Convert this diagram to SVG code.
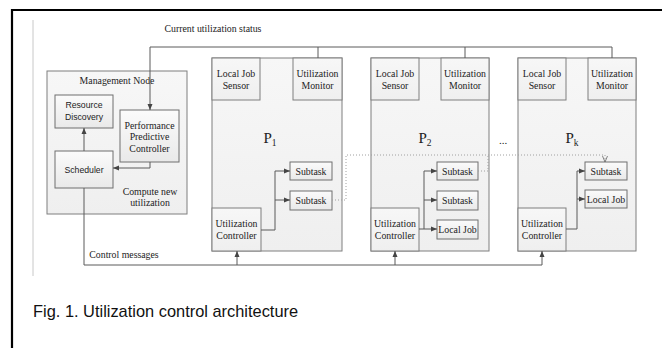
<svg xmlns="http://www.w3.org/2000/svg" width="662" height="348" viewBox="0 0 662 348">
<style>
.serif{font-family:"Liberation Serif","Times New Roman",serif;fill:#222;font-size:9.8px;text-anchor:middle}
.sans{font-family:"Liberation Sans",Arial,sans-serif;fill:#222;font-size:8.7px;text-anchor:middle}
.big{font-family:"Liberation Serif","Times New Roman",serif;fill:#222;font-size:15px;text-anchor:middle}
.box{fill:url(#g1);stroke:#7f7f7f;stroke-width:1}
.inner{fill:url(#g2);stroke:#6f6f6f;stroke-width:1}
.ln{fill:none;stroke:#5a5a5a;stroke-width:1}
.dot{fill:none;stroke:#a0a0a0;stroke-width:1;stroke-dasharray:1 2}
</style>
<defs>
<linearGradient id="g1" x1="0" y1="0" x2="0" y2="1"><stop offset="0" stop-color="#f7f7f7"/><stop offset="1" stop-color="#efefef"/></linearGradient>
<linearGradient id="g2" x1="0" y1="0" x2="0" y2="1"><stop offset="0" stop-color="#fbfbfb"/><stop offset="1" stop-color="#e9e9e9"/></linearGradient>
<marker id="ar" viewBox="0 0 6 6" refX="6" refY="3" markerWidth="6" markerHeight="6" orient="auto" markerUnits="userSpaceOnUse"><path d="M0,0.5 L6,3 L0,5.5 z" fill="#444"/></marker>
<marker id="ay" viewBox="0 0 6 6" refX="6" refY="3" markerWidth="6" markerHeight="6" orient="auto" markerUnits="userSpaceOnUse"><path d="M0,0.5 L6,3 L0,5.5" fill="none" stroke="#666" stroke-width="0.8"/></marker>
</defs>
<rect width="662" height="348" fill="#fff"/>
<path d="M12,349 L12,10 L663,10" fill="none" stroke="#000" stroke-width="2.2"/>
<line x1="33" y1="20" x2="33" y2="276" stroke="#c8c8c8" stroke-width="1"/>
<text x="213" y="31.5" class="serif">Current utilization status</text>

<g id="management-node">
<rect x="47" y="71" width="140" height="143" class="box"/>
<text x="117" y="83.5" class="serif">Management Node</text>
<text x="150" y="194.5" class="serif">Compute new</text>
<text x="150" y="206" class="serif">utilization</text>
</g>
<g id="resource-discovery">
<rect x="55" y="95" width="58" height="33" class="inner"/>
<text x="84" y="108" class="sans">Resource</text>
<text x="84" y="120" class="sans">Discovery</text>
</g>
<g id="ppc">
<rect x="120" y="110" width="59" height="52" class="inner"/>
<text x="149.5" y="128.5" class="serif">Performance</text>
<text x="149.5" y="140" class="serif">Predictive</text>
<text x="149.5" y="151.5" class="serif">Controller</text>
</g>
<g id="scheduler">
<rect x="55" y="151" width="58" height="37" class="inner"/>
<text x="84" y="172.5" class="sans">Scheduler</text>
</g>

<g id="p1">
<rect x="212" y="58" width="130" height="193" class="box"/>
<text x="270" y="143" class="big">P<tspan dy="3" style="font-size:9.5px">1</tspan></text>
</g>
<g id="p1-sensor"><rect x="212" y="58" width="48" height="42" class="box"/><text x="236" y="76.5" class="serif">Local Job</text><text x="236" y="88.5" class="serif">Sensor</text></g>
<g id="p1-monitor"><rect x="293" y="58" width="49" height="42" class="box"/><text x="317.5" y="76.5" class="serif">Utilization</text><text x="317.5" y="88.5" class="serif">Monitor</text></g>
<g id="p1-controller"><rect x="212" y="208" width="49" height="43" class="box"/><text x="236.5" y="227" class="serif">Utilization</text><text x="236.5" y="239" class="serif">Controller</text></g>
<g id="p1-subtask1"><rect x="290" y="162" width="42" height="18" class="inner"/><text x="311" y="174.5" class="serif">Subtask</text></g>
<g id="p1-subtask2"><rect x="290" y="191" width="42" height="19" class="inner"/><text x="311" y="204" class="serif">Subtask</text></g>

<g id="p2">
<rect x="371" y="58" width="118" height="193" class="box"/>
<text x="425" y="143" class="big">P<tspan dy="3" style="font-size:9.5px">2</tspan></text>
</g>
<g id="p2-sensor"><rect x="371" y="58" width="48" height="42" class="box"/><text x="395" y="76.5" class="serif">Local Job</text><text x="395" y="88.5" class="serif">Sensor</text></g>
<g id="p2-monitor"><rect x="441" y="58" width="48" height="42" class="box"/><text x="465" y="76.5" class="serif">Utilization</text><text x="465" y="88.5" class="serif">Monitor</text></g>
<g id="p2-controller"><rect x="371" y="208" width="48" height="43" class="box"/><text x="395" y="227" class="serif">Utilization</text><text x="395" y="239" class="serif">Controller</text></g>
<g id="p2-subtask1"><rect x="437" y="162" width="41" height="18" class="inner"/><text x="457.5" y="174.5" class="serif">Subtask</text></g>
<g id="p2-subtask2"><rect x="437" y="191" width="41" height="19" class="inner"/><text x="457.5" y="204" class="serif">Subtask</text></g>
<g id="p2-localjob"><rect x="437" y="220" width="41" height="19" class="inner"/><text x="457.5" y="233" class="serif">Local Job</text></g>

<text x="503" y="144" class="big" style="font-size:11px">...</text>

<g id="pk">
<rect x="518" y="58" width="118" height="193" class="box"/>
<text x="572" y="143" class="big">P<tspan dy="3" style="font-size:9.5px">k</tspan></text>
</g>
<g id="pk-sensor"><rect x="518" y="58" width="48" height="42" class="box"/><text x="542" y="76.5" class="serif">Local Job</text><text x="542" y="88.5" class="serif">Sensor</text></g>
<g id="pk-monitor"><rect x="588" y="58" width="48" height="42" class="box"/><text x="612" y="76.5" class="serif">Utilization</text><text x="612" y="88.5" class="serif">Monitor</text></g>
<g id="pk-controller"><rect x="518" y="208" width="48" height="43" class="box"/><text x="542" y="227" class="serif">Utilization</text><text x="542" y="239" class="serif">Controller</text></g>
<g id="pk-subtask"><rect x="585" y="162" width="42" height="18" class="inner"/><text x="606" y="174.5" class="serif">Subtask</text></g>
<g id="pk-localjob"><rect x="585" y="190" width="42" height="18" class="inner"/><text x="606" y="202.5" class="serif">Local Job</text></g>

<g id="connectors">
<path d="M318,58 V47 H612 V58 M465,47 V58 M318,47 H150 V110" class="ln" marker-end="url(#ar)"/>
<path d="M150,162 V168 H113" class="ln" marker-end="url(#ar)"/>
<path d="M84,151 V128" class="ln" marker-end="url(#ar)"/>
<path d="M84,188 V265 H542" class="ln"/>
<path d="M237,265 V251" class="ln" marker-end="url(#ar)"/>
<path d="M395,265 V251" class="ln" marker-end="url(#ar)"/>
<path d="M542,265 V251" class="ln" marker-end="url(#ar)"/>
<path d="M261,230 H275 V171 H290" class="ln" marker-end="url(#ar)"/>
<path d="M275,200 H290" class="ln" marker-end="url(#ar)"/>
<path d="M419,229 H437" class="ln" marker-end="url(#ar)"/>
<path d="M424,229 V171 H437" class="ln" marker-end="url(#ar)"/>
<path d="M424,200 H437" class="ln" marker-end="url(#ar)"/>
<path d="M566,229 H577 V171 H585" class="ln" marker-end="url(#ar)"/>
<path d="M577,199 H585" class="ln" marker-end="url(#ar)"/>
<path d="M332,200 H346 V155 H605 V162" class="dot" marker-end="url(#ay)"/>
<path d="M478,171 H488 V155" class="dot"/>
<text x="124" y="257.5" class="serif">Control messages</text>
</g>

<text x="33" y="317" font-family="'Liberation Sans',Arial,sans-serif" font-size="16.4" fill="#111">Fig. 1. Utilization control architecture</text>
</svg>
